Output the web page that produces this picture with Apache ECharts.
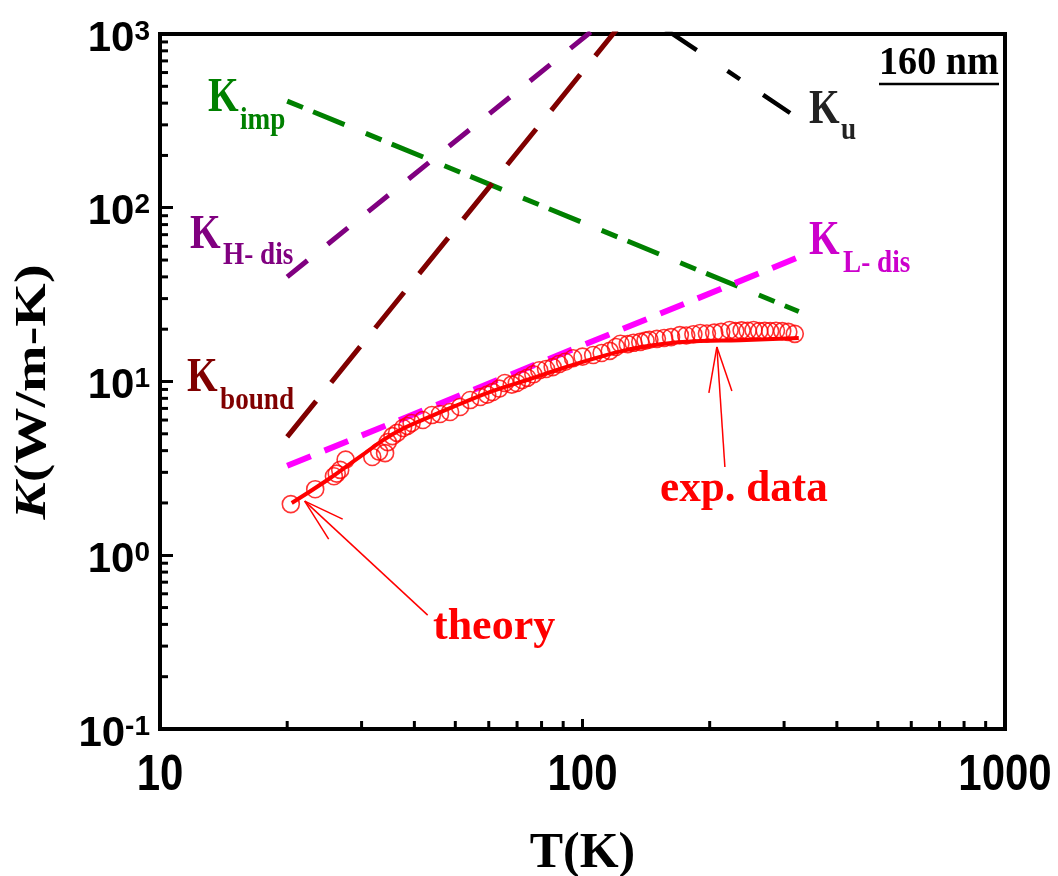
<!DOCTYPE html>
<html>
<head>
<meta charset="utf-8">
<script src="https://cdn.jsdelivr.net/npm/echarts@6/dist/echarts.min.js"></script>
<style>
  html, body { margin: 0; padding: 0; background: #ffffff; }
  #chart { width: 1058px; height: 876px; }
</style>
</head>
<body>
<div id="chart"></div>
<script>
// Axis ranges and ticks (log-log)
const X_MIN = 10, X_MAX = 1000;
const Y_MIN = 0.1, Y_MAX = 1000;
const X_TICKS = [10, 100, 1000];
const X_MINOR = [20, 30, 40, 50, 60, 70, 80, 90, 200, 300, 400, 500, 600, 700, 800, 900];
const Y_MINOR = [0.2, 0.3, 0.4, 0.5, 0.6, 0.7, 0.8, 0.9, 2, 3, 4, 5, 6, 7, 8, 9,
                 20, 30, 40, 50, 60, 70, 80, 90, 200, 300, 400, 500, 600, 700, 800, 900];

// Component conductivities (power laws, drawn between two temperatures)
const T_ENDS = [20, 325];
const K_IMP = [411, 25.3];
const K_LDIS = [3.27, 52];
const K_HDIS = [40, 9500];
const K_BOUND = [4.8, 21000];
const K_U_T = [150, 310];
const K_U = [1150, 351];

// Theory curve
const THEORY_T = [20.5, 24.9, 29.7, 35.6, 42.9, 51.3, 61.4, 73.9, 88.5, 105.9, 127.4, 152.6, 189.7, 236, 325];
const THEORY_K = [2.0, 2.71, 3.68, 4.99, 6.17, 7.42, 8.82, 10.2, 11.8, 13.5, 15.2, 16.4, 17.1, 17.3, 17.8];

// Measured thermal conductivity
const EXP_T = [20.4, 23.3, 25.8, 26.2, 26.7, 27.5, 31.8, 33.0, 34.1, 34.6, 35.5, 36.4, 37.6, 38.5, 39.4,
               41.9, 44.0, 46.0, 48.6, 51.3, 54.2, 57.3, 59.5, 61.3, 63.5, 65.5, 68.0, 69.9, 72.0, 74.0,
               76.5, 79.0, 82.0, 85.0, 88.0, 91.0, 95.0, 100, 106, 111, 116, 120, 123, 128, 132,
               137, 141, 144, 150, 156, 162, 170, 176, 183, 190, 197, 205, 213, 223, 230,
               238, 246, 254, 262, 270, 278, 287, 297, 307, 318];
const EXP_K = [1.97, 2.40, 2.85, 2.95, 3.10, 3.55, 3.68, 3.95, 3.87, 4.48, 4.85, 5.06, 5.40, 5.55, 5.77,
               6.00, 6.41, 6.50, 6.68, 7.13, 7.82, 8.14, 8.40, 8.70, 9.10, 9.80, 9.60, 9.80, 10.2, 10.5,
               11.0, 11.6, 11.8, 12.1, 12.6, 13.0, 13.6, 13.9, 14.2, 14.6, 15.0, 15.8, 16.5, 16.4, 16.7,
               16.9, 17.2, 17.4, 17.6, 17.8, 18.0, 18.5, 18.4, 18.7, 19.0, 18.9, 19.1, 19.3, 19.8, 19.5,
               19.7, 19.6, 19.8, 19.5, 19.6, 19.5, 19.6, 19.5, 19.3, 18.8];

// Where the callout arrows point (T, K)
const THEORY_NOTE_AT = [22, 2.05];
const EXP_NOTE_AT = [208, 15.8];

const SERIF = '"Liberation Serif", "Times New Roman", serif';
const SANS = '"Liberation Sans", Arial, sans-serif';

function pairs(xs, ys) { return xs.map((x, i) => [x, ys[i]]); }

function powerLine(name, ts, ks, color, width, dash) {
  return {
    name, type: 'line', data: pairs(ts, ks), symbol: 'none', clip: true, z: 3,
    lineStyle: { color, width, type: dash, cap: 'butt' }
  };
}

// log-axis minor ticks at 2..9 x 10^n, placed through the axis scales
function minorTicks(values, dir) {
  return {
    type: 'custom', coordinateSystem: 'cartesian2d', silent: true, clip: false, z: 6,
    data: values.map(v => dir === 'x' ? [v, Y_MIN] : [X_MIN, v]),
    renderItem: (params, api) => {
      const p = api.coord([api.value(0), api.value(1)]);
      const len = 8;
      const shape = dir === 'x'
        ? { x1: p[0], y1: p[1], x2: p[0], y2: p[1] - len }
        : { x1: p[0], y1: p[1], x2: p[0] + len, y2: p[1] };
      return { type: 'line', shape, style: { stroke: '#000', lineWidth: 3 } };
    }
  };
}

// condensed x tick labels
const xTickLabels = {
  type: 'custom', coordinateSystem: 'cartesian2d', silent: true, clip: false, z: 6,
  data: X_TICKS.map(v => [v, Y_MIN]),
  renderItem: (params, api) => {
    const v = api.value(0);
    const p = api.coord([v, api.value(1)]);
    return {
      type: 'text', x: p[0], y: p[1] + 22, scaleX: 0.84,
      style: { text: String(v), align: 'center', verticalAlign: 'top', fill: '#000',
               fontFamily: SANS, fontWeight: 'bold', fontSize: 50 }
    };
  }
};

const option = {
  backgroundColor: '#ffffff',
  animation: false,
  grid: { left: 160, top: 34, right: 53, bottom: 147, containLabel: false, outerBoundsMode: 'none',
          show: true, borderColor: '#000', borderWidth: 4, backgroundColor: 'transparent' },
  xAxis: {
    type: 'log', logBase: 10, min: X_MIN, max: X_MAX,
    name: 'T(K)', nameLocation: 'middle', nameGap: 100,
    nameTextStyle: { fontFamily: SERIF, fontWeight: 'bold', fontSize: 50, color: '#000' },
    axisLine: { lineStyle: { color: '#000', width: 4 } },
    axisTick: { inside: true, length: 10, lineStyle: { color: '#000', width: 3 } },
    splitLine: { show: false },
    axisLabel: { show: false }
  },
  yAxis: {
    type: 'log', logBase: 10, min: Y_MIN, max: Y_MAX,
    axisLine: { lineStyle: { color: '#000', width: 4 } },
    axisTick: { inside: true, length: 13, lineStyle: { color: '#000', width: 3 } },
    splitLine: { show: false },
    axisLabel: {
      showMinLabel: true, showMaxLabel: true, margin: 10, padding: [10, 0, 0, 0],
      formatter: v => '{b|10}{s|' + Math.round(Math.log10(v)) + '}',
      rich: {
        b: { fontFamily: SANS, fontWeight: 'bold', fontSize: 42, color: '#000', verticalAlign: 'bottom' },
        s: { fontFamily: SANS, fontWeight: 'bold', fontSize: 28, color: '#000', verticalAlign: 'top' }
      }
    }
  },
  series: [
    minorTicks(X_MINOR, 'x'),
    minorTicks(Y_MINOR, 'y'),
    xTickLabels,
    powerLine('K_imp', T_ENDS, K_IMP, '#008000', 5, [17, 11, 34, 23]),
    powerLine('K_H-dis', T_ENDS, K_HDIS, '#800080', 5, [26, 26]),
    powerLine('K_bound', T_ENDS, K_BOUND, '#800000', 5, [46, 24]),
    powerLine('K_L-dis', T_ENDS, K_LDIS, '#ff00ff', 6, [25.5, 14.8]),
    powerLine('K_u', K_U_T, K_U, '#000000', 4.5, [48, 37, 15, 28, 40, 40]),
    {
      name: 'exp. data', type: 'scatter', data: pairs(EXP_T, EXP_K), z: 4,
      symbol: 'circle', symbolSize: 17,
      itemStyle: { color: 'transparent', borderColor: '#ff0000', borderWidth: 1.6 }
    },
    {
      name: 'theory', type: 'line', data: pairs(THEORY_T, THEORY_K), smooth: true, z: 5,
      symbol: 'none', lineStyle: { color: '#ff0000', width: 4 }
    }
  ]
};

const chart = echarts.init(document.getElementById('chart'));
chart.setOption(option);

// ---- annotations ----
function txt(str, left, baseline, size, color, sx) {
  return {
    type: 'text', x: left, y: baseline, scaleX: sx, z: 100,
    style: { text: str, x: 0, y: -0.34 * size, fill: color, fontFamily: SERIF, fontWeight: 'bold',
             fontSize: size, align: 'left', verticalAlign: 'middle' }
  };
}
function seg(x1, y1, x2, y2, color, w) {
  return { type: 'line', z: 100, shape: { x1, y1, x2, y2 }, style: { stroke: color, lineWidth: w } };
}
function callout(anchor, tail, heads) {
  const p = chart.convertToPixel({ gridIndex: 0 }, anchor);
  const out = [seg(p[0], p[1], p[0] + tail[0], p[1] + tail[1], '#ff0000', 1.5)];
  heads.forEach(h => out.push(seg(p[0], p[1], p[0] + h[0], p[1] + h[1], '#ff0000', 1.5)));
  return out;
}

const KS = 48, SS = 32, SX = 0.82;
const graphics = [
  // y-axis title, read bottom to top
  {
    type: 'text', x: 33, y: 392, rotation: Math.PI / 2, scaleY: 0.8, z: 100,
    style: {
      text: '{it|K}(W/m-K)', align: 'center', verticalAlign: 'middle', fill: '#000',
      fontFamily: SERIF, fontWeight: 'bold', fontSize: 56,
      rich: { it: { fontFamily: SERIF, fontWeight: 'bold', fontStyle: 'italic', fontSize: 56, fill: '#000' } }
    }
  },
  txt('K', 208, 115, KS, '#008000', SX), txt('imp', 240, 132, SS, '#008000', 0.85),
  txt('K', 190, 252, KS, '#800080', SX), txt('H- dis', 223, 267, SS, '#800080', 0.85),
  txt('K', 187, 395, KS, '#800000', SX), txt('bound', 220, 412, SS, '#800000', 0.85),
  txt('K', 809, 127, KS, '#222222', SX), txt('u', 841, 142, SS, '#222222', 0.85),
  txt('K', 809, 258, KS, '#cc00cc', SX), txt('L- dis', 843, 275, SS, '#cc00cc', 0.85),
  txt('160 nm', 879, 77, 41, '#000000', 0.93),
  seg(879, 84, 999, 84, '#000000', 2.5),
  txt('theory', 433, 643, 44, '#ff0000', 1.0),
  txt('exp. data', 660, 505, 44, '#ff0000', 0.98)
].concat(
  callout(THEORY_NOTE_AT, [123, 114], [[38, 18], [24, 38]]),
  callout(EXP_NOTE_AT, [8, 120], [[-8, 46], [15, 44]])
);
chart.setOption({ graphic: graphics });
</script>
</body>
</html>
